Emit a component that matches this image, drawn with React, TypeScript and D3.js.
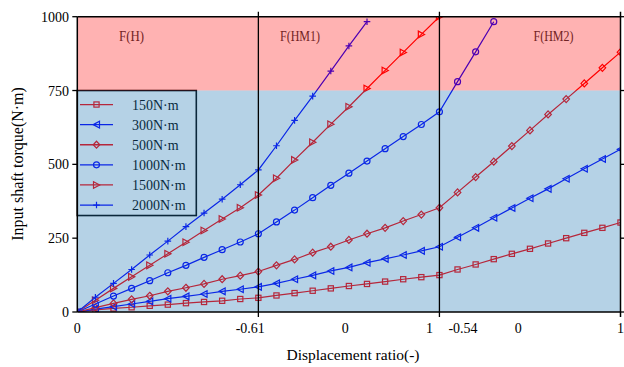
import React from "react";
import * as d3 from "d3";

// x positions are point indices: region F(H) 0-10, F(HM1) 10-20, F(HM2) 20-30
const s150 = [0, 7, 12, 16, 21, 25, 30, 34, 38, 44, 48, 56, 64, 72, 80, 88, 95, 103, 111, 118, 125, 144, 161, 179, 197, 214, 232, 250, 268, 285, 303];
const s300 = [0, 10, 18, 27, 36, 45, 53, 61, 70, 77, 85, 97, 111, 124, 139, 151, 167, 180, 193, 207, 221, 253, 285, 319, 352, 385, 417, 451, 485, 518, 551];
const s500 = [0, 15, 29, 43, 55, 70, 82, 95, 111, 123, 137, 158, 178, 201, 221, 244, 265, 285, 308, 330, 353, 405, 457, 509, 562, 615, 669, 721, 774, 827, 880];
const s1000 = [0, 27, 54, 80, 106, 133, 158, 185, 211, 237, 265, 305, 345, 387, 429, 470, 511, 553, 594, 635, 678, 780, 881, 983];
const s1500 = [0, 40, 80, 119, 158, 197, 236, 276, 315, 353, 396, 453, 515, 575, 636, 695, 757, 818, 879, 940, 1000];
const s2000 = [0, 50, 97, 144, 193, 240, 289, 335, 382, 431, 481, 563, 649, 731, 816, 901, 983];

const seriesNames = ["150N·m", "300N·m", "500N·m", "1000N·m", "1500N·m", "2000N·m"];
const seriesData = [s150, s300, s500, s1000, s1500, s2000];
const seriesColors = ["#ff0000", "#0000ff", "#ff0000", "#0000ff", "#ff0000", "#0000ff"];
const seriesMarkers = ["square", "triLeft", "diamond", "circle", "triRight", "plus"];

const yTicks = [0, 250, 500, 750, 1000];
const xTickLabels = ["0", "-0.61", "0", "1", "-0.54", "0", "1"];
const xTickPos = [0, 9.55, 14.8, 19.45, 21.3, 24.35, 30];
const regionBounds = [0, 10, 20, 30];
const regionLabels = ["F(H)", "F(HM1)", "F(HM2)"];
const regionLabelPos = [3.0, 12.3, 26.3];
const dangerLevel = 750;

const W = 624, H = 367;
const L = 77.3, R = 620.5, T = 16.7, B = 312;

function Marker({ type, x, y, color }: { type: string; x: number; y: number; color: string }) {
  const sw = 1.2;
  const common = { fill: "none", stroke: color, strokeWidth: sw };
  switch (type) {
    case "square":
      return <rect x={x - 2.6} y={y - 2.6} width={5.2} height={5.2} {...common} />;
    case "circle":
      return <circle cx={x} cy={y} r={3} {...common} />;
    case "diamond":
      return <path d={`M${x},${y - 3.5}L${x + 3.3},${y}L${x},${y + 3.5}L${x - 3.3},${y}Z`} {...common} />;
    case "triLeft":
      return <path d={`M${x - 3.2},${y}L${x + 3},${y - 3.3}L${x + 3},${y + 3.3}Z`} {...common} />;
    case "triRight":
      return <path d={`M${x + 3.2},${y}L${x - 3},${y - 3.3}L${x - 3},${y + 3.3}Z`} {...common} />;
    case "plus":
      return <path d={`M${x - 3.3},${y}L${x + 3.3},${y}M${x},${y - 3.3}L${x},${y + 3.3}`} {...common} />;
  }
  return null;
}

export default function App() {
  const x = d3.scaleLinear().domain([0, 30]).range([L, R]);
  const y = d3.scaleLinear().domain([0, 1000]).range([B, T]);
  const line = d3.line<number>().x((_, i) => x(i)).y((d) => y(d));
  const serif = "'Liberation Serif', 'Times New Roman', serif";

  const legendX = L, legendY = y(dangerLevel), legendW = 119, legendH = 125;

  return (
    <svg width={W} height={H} style={{ position: "absolute", left: 0, top: 0 }} fontFamily={serif}>
      <rect x={0} y={0} width={W} height={H} fill="#ffffff" />
      <defs>
        <clipPath id="plot">
          <rect x={L} y={T} width={R - L} height={B - T} />
        </clipPath>
      </defs>

      {/* region labels */}
      {regionLabels.map((t, i) => (
        <text key={t} x={x(regionLabelPos[i])} y={41} fontSize={14} fill="#333" textAnchor="middle"
          textLength={t.length === 4 ? 25 : 40} lengthAdjust="spacingAndGlyphs">{t}</text>
      ))}

      {/* series */}
      <g clipPath="url(#plot)">
        {seriesData.map((d, si) => (
          <g key={si}>
            <path d={line(d) || ""} fill="none" stroke={seriesColors[si]} strokeWidth={1.2} />
            {d.map((v, i) => (
              <Marker key={i} type={seriesMarkers[si]} x={x(i)} y={y(v)} color={seriesColors[si]} />
            ))}
          </g>
        ))}
      </g>

      {/* legend */}
      <g>
        <rect x={legendX} y={legendY} width={legendW} height={legendH} fill="none" stroke="#000" strokeWidth={1.6} />
        {seriesNames.map((n, i) => {
          const cy = legendY + 14 + i * 20.1;
          return (
            <g key={n}>
              <line x1={80} x2={113} y1={cy} y2={cy} stroke={seriesColors[i]} strokeWidth={1.3} />
              <Marker type={seriesMarkers[i]} x={96.5} y={cy} color={seriesColors[i]} />
              <text x={132} y={cy + 5} fontSize={14} fill="#000">{n}</text>
            </g>
          );
        })}
      </g>

      {/* overlays */}
      <rect x={L} y={y(1000)} width={R - L} height={y(dangerLevel) - y(1000)} fill="rgb(255,0,0)" fillOpacity={0.3} />
      <rect x={L} y={y(dangerLevel)} width={R - L} height={y(0) - y(dangerLevel)} fill="rgb(31,119,180)" fillOpacity={0.33} />

      {/* axes frame */}
      <line x1={L} x2={R} y1={T} y2={T} stroke="#000" strokeWidth={1.5} />
      <line x1={L} x2={R} y1={B} y2={B} stroke="#000" strokeWidth={1.5} />
      <line x1={L} x2={L} y1={T} y2={B} stroke="#000" strokeWidth={1.5} />
      <line x1={R} x2={R} y1={T - 5} y2={B + 5} stroke="#000" strokeWidth={1.5} />
      {regionBounds.slice(1, 3).map((b) => (
        <line key={b} x1={x(b)} x2={x(b)} y1={T - 5} y2={B + 5} stroke="#000" strokeWidth={1.3} />
      ))}
      {yTicks.map((t) => (
        <g key={t}>
          <line x1={L - 5} x2={L} y1={y(t)} y2={y(t)} stroke="#000" strokeWidth={1.3} />
          <line x1={R} x2={R + 5} y1={y(t)} y2={y(t)} stroke="#000" strokeWidth={1.3} />
          <text x={69} y={y(t) + 5} fontSize={14} textAnchor="end" fill="#000">{t}</text>
        </g>
      ))}
      {xTickLabels.map((t, i) => (
        <text key={i} x={x(xTickPos[i])} y={333} fontSize={14} textAnchor="middle" fill="#000">{t}</text>
      ))}

      <text x={353} y={360} fontSize={15.5} textAnchor="middle" fill="#000">Displacement ratio(-)</text>
      <text transform={`translate(23,164) rotate(-90)`} fontSize={16} textAnchor="middle" fill="#000">Input shaft torque(N·m)</text>
    </svg>
  );
}
